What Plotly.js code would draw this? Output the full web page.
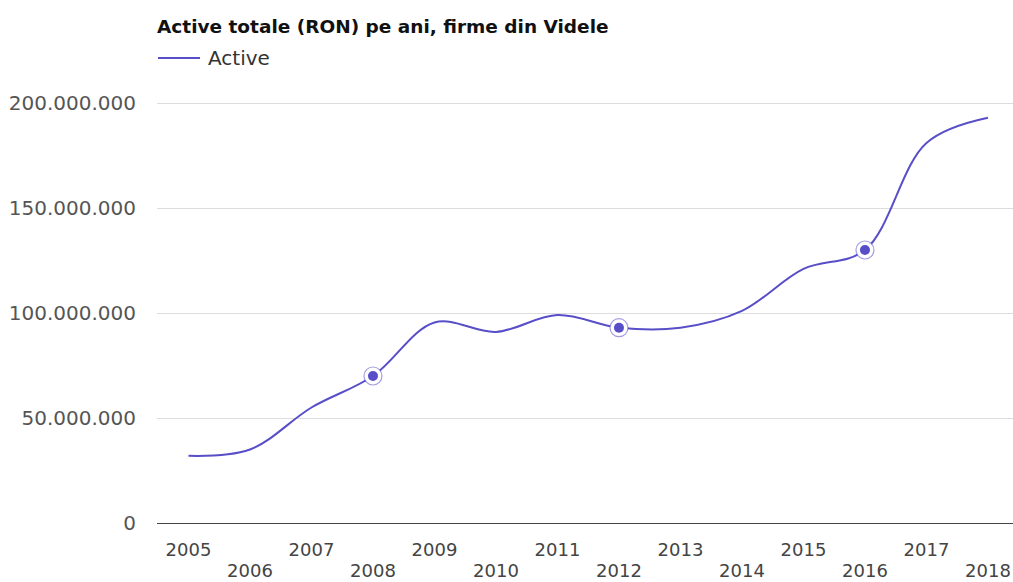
<!DOCTYPE html>
<html>
<head>
<meta charset="utf-8">
<script src="https://cdn.plot.ly/plotly-3.0.1.min.js"></script>
<style>html,body{margin:0;padding:0;background:#fff;}#chart{width:1013px;height:582px;}</style>
</head>
<body>
<div id="chart"></div>
<script>
const years = [2005, 2006, 2007, 2008, 2009, 2010, 2011, 2012, 2013, 2014, 2015, 2016, 2017, 2018];
const active = [32000000, 35000000, 55000000, 70000000, 95500000, 91000000, 99000000, 93000000, 93000000, 101000000, 121000000, 130000000, 181000000, 193000000];
const markedYears = [2008, 2012, 2016];
const yTicks = [0, 50000000, 100000000, 150000000, 200000000];
const oddYears = years.filter(y => y % 2 === 1);
const evenYears = years.filter(y => y % 2 === 0);
const seriesName = 'Active';

const lineColor = 'rgb(88,78,200)';
const markedVals = markedYears.map(y => active[years.indexOf(y)]);

// pixel helpers for the hand-drawn legend (plot area: x 157..1013, y 80..523)
const px2x = p => (p - 157) / 856;
const px2y = p => (523 - p) / 443;

const traces = [
  {x: years, y: active, type: 'scatter', mode: 'lines', name: seriesName, showlegend: false,
   line: {color: lineColor, width: 2, shape: 'spline', smoothing: 1}},
  {x: markedYears, y: markedVals, type: 'scatter', mode: 'markers', showlegend: false,
   marker: {size: 18, color: 'white', line: {color: 'rgba(88,78,200,0.55)', width: 1.2}}},
  {x: markedYears, y: markedVals, type: 'scatter', mode: 'markers', showlegend: false,
   marker: {size: 10, color: lineColor}},
  {x: evenYears, y: evenYears.map(() => null), xaxis: 'x2', type: 'scatter', mode: 'markers', showlegend: false}
];

const font = 'DejaVu Sans, Verdana, sans-serif';
const xRange = [2004.488, 2018.407];

const layout = {
  width: 1013, height: 582,
  paper_bgcolor: '#fff', plot_bgcolor: '#fff',
  separators: ',.',
  margin: {l: 157, r: 0, t: 80, b: 59},
  font: {family: font, color: '#444', size: 18},
  title: {text: '<b>Active totale (RON) pe ani, firme din Videle</b>', font: {family: font, size: 18.5, color: '#111'},
          xref: 'paper', x: 0, xanchor: 'left', yref: 'container', y: 1 - 27/582, yanchor: 'middle', pad: {l: 0}},
  showlegend: false,
  shapes: [
    {type: 'line', xref: 'paper', yref: 'paper', x0: px2x(158), x1: px2x(200), y0: px2y(58), y1: px2y(58),
     line: {color: lineColor, width: 2}}
  ],
  annotations: [
    {text: seriesName, xref: 'paper', yref: 'paper', x: px2x(206), y: px2y(58), xanchor: 'left', yanchor: 'middle',
     showarrow: false, font: {family: font, size: 20, color: '#333'}}
  ],
  xaxis: {range: xRange, tickvals: oddYears, ticktext: oddYears.map(String), showgrid: false,
          zeroline: false, showline: false, ticks: '', ticklabelstandoff: 14,
          tickfont: {family: font, size: 18, color: '#444'}, fixedrange: true},
  xaxis2: {range: xRange, overlaying: 'x', anchor: 'y', side: 'bottom', tickvals: evenYears, ticktext: evenYears.map(String),
          showgrid: false, zeroline: false, showline: false, ticks: '', ticklabelstandoff: 35,
          tickfont: {family: font, size: 18, color: '#444'}, fixedrange: true},
  yaxis: {range: [0, 210950000], tickvals: yTicks, tickformat: ',d', showgrid: true, gridcolor: '#ddd',
          zeroline: true, zerolinecolor: '#444', zerolinewidth: 1, showline: false, ticks: '',
          ticklabelstandoff: 20, tickfont: {family: font, size: 20, color: '#555'}, fixedrange: true}
};

Plotly.newPlot('chart', traces, layout, {displayModeBar: false, staticPlot: true});
</script>
</body>
</html>
